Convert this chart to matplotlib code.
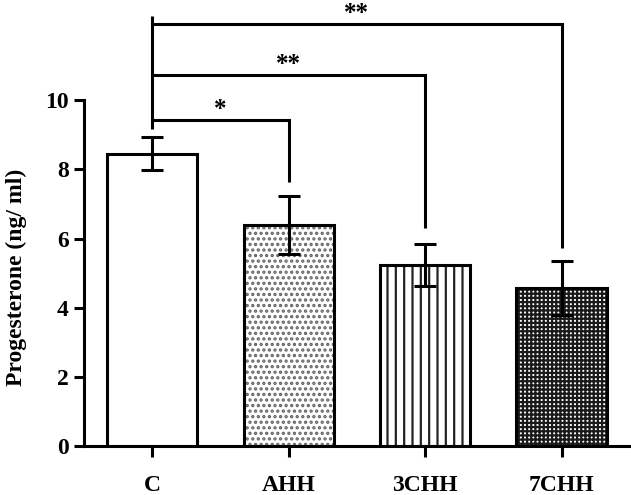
"""
Progesterone bar chart with significance brackets, saved as out.png.
"""

import matplotlib.pyplot as plt
import matplotlib as mpl

plt.rcParams['font.family'] = ['Liberation Serif', 'DejaVu Serif']
plt.rcParams['font.weight'] = 'bold'
plt.rcParams['hatch.linewidth'] = 1.6

groups = ["C", "AHH", "3CHH", "7CHH"]
means = [8.45, 6.39, 5.23, 4.56]
errors = [0.48, 0.83, 0.60, 0.78]
hatches = ["", "...", "||", "++++"]
hatch_colors = ["black", "#666666", "#222222", "#1a1a1a"]

# significance vs. C: target group, bracket level, drop end, label
sig_target = [1, 2, 3]
sig_level = [9.42, 10.72, 12.20]
sig_drop_end = [7.63, 6.30, 5.72]
sig_label = ["*", "**", "**"]

fig = plt.figure(figsize=(6.31, 4.95), dpi=100)
ax = fig.add_axes([0.133, 0.099, 0.865, 0.901])

x = list(range(len(groups)))
bars = ax.bar(x, means, width=0.66, color="white", edgecolor="black", linewidth=2.2, zorder=2)
for bar, h, hc in zip(bars, hatches, hatch_colors):
    bar.set_hatch(h)
    bar._hatch_color = mpl.colors.to_rgba(hc)
ax.errorbar(x, means, yerr=errors, fmt="none", ecolor="black", elinewidth=2.2,
            capsize=8, capthick=2.2, zorder=3)

# brackets
lw = 2.2
ax.plot([0, 0], [9.16, 12.43], color="black", lw=lw, solid_capstyle="butt", clip_on=False)
for t, lev, end, lab in zip(sig_target, sig_level, sig_drop_end, sig_label):
    ax.plot([0, t, t], [lev, lev, end], color="black", lw=lw, solid_joinstyle="miter",
            solid_capstyle="butt", clip_on=False)
    ax.text(t / 2, lev + 0.12, lab, ha="center", va="baseline", fontsize=18,
            fontweight="bold", clip_on=False)

ax.set_xlim(-0.5, 3.5)
ax.set_ylim(0, 12.9)
ax.spines["top"].set_visible(False)
ax.spines["right"].set_visible(False)
ax.spines["left"].set_bounds(0, 10)
ax.spines["left"].set_linewidth(2.2)
ax.spines["bottom"].set_linewidth(2.2)
ax.set_yticks([0, 2, 4, 6, 8, 10])
ax.set_xticks(x)
ax.set_xticklabels(groups)
ax.tick_params(axis="y", length=7, width=2.2, labelsize=17, pad=4)
ax.tick_params(axis="x", length=8, width=2.2, labelsize=17, pad=13)
ax.set_ylabel("Progesterone (ng/ ml)", fontsize=17, fontweight="bold")
ax.yaxis.set_label_coords(-0.104, 0.377)

fig.savefig("out.png", dpi=100, facecolor="white")
